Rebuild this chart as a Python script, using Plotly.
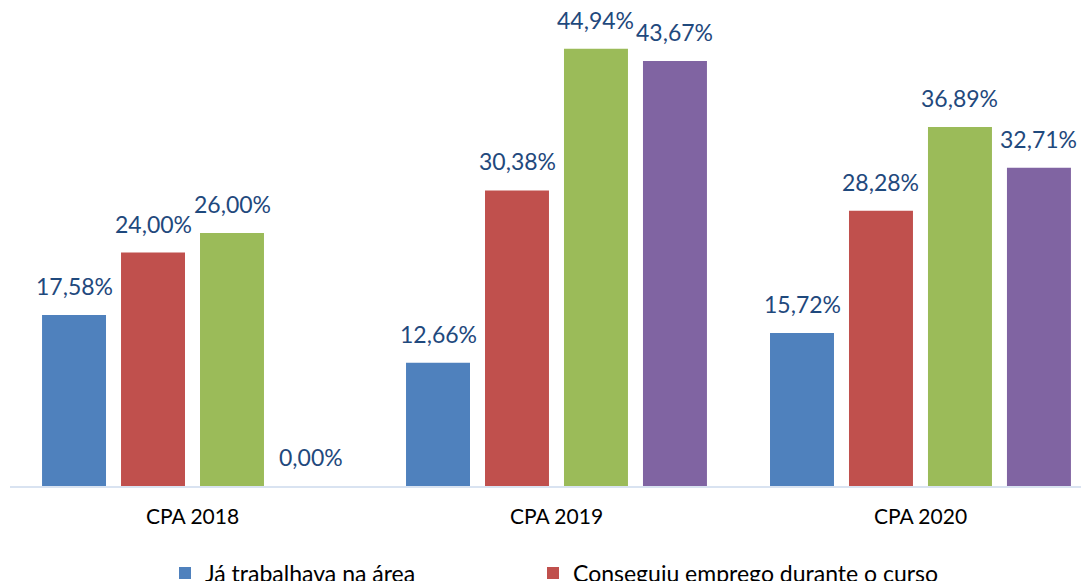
import plotly.graph_objects as go

categories = ["CPA 2018", "CPA 2019", "CPA 2020"]
series_names = [
    "Já trabalhava na área",
    "Conseguiu emprego durante o curso",
    "Conseguiu emprego após o curso",
    "Não conseguiu emprego",
]
ja_trabalhava = [17.58, 12.66, 15.72]
durante_curso = [24.00, 30.38, 28.28]
apos_curso = [26.00, 44.94, 36.89]
nao_conseguiu = [0.00, 43.67, 32.71]
series_values = [ja_trabalhava, durante_curso, apos_curso, nao_conseguiu]
colors = ["#4F81BD", "#C0504D", "#9BBB59", "#8064A2"]
legend_ids = ["legend", "legend2", "legend", "legend2"]

FONT = "Lato, 'Open Sans', sans-serif"
BARGAP = 0.132
NSER = len(series_values)

fig = go.Figure()
for name, vals, col, lg in zip(series_names, series_values, colors, legend_ids):
    fig.add_trace(go.Bar(
        x=categories, y=vals, name=name, legend=lg,
        marker=dict(color=col, line=dict(width=0)),
        hoverinfo="skip",
    ))

def fmt(v):
    return f"{v:.2f}".replace(".", ",") + "%"

slot = (1 - BARGAP) / NSER
annotations = []
for j, vals in enumerate(series_values):
    for i, v in enumerate(vals):
        annotations.append(dict(
            x=i + (j - (NSER - 1) / 2) * slot, y=v, xref="x", yref="y",
            text=fmt(v), showarrow=False, yanchor="bottom", yshift=13,
            font=dict(family=FONT, size=23, color="#1F497D"),
        ))

legend_common = dict(
    orientation="v", xanchor="left", y=-0.137, yanchor="top",
    font=dict(family=FONT, size=23, color="#000000"),
    itemwidth=30, bgcolor="rgba(0,0,0,0)",
)

fig.update_layout(
    width=1089, height=581,
    margin=dict(l=2, r=8, t=0, b=103, autoexpand=False),
    paper_bgcolor="white", plot_bgcolor="white",
    barmode="group", bargap=BARGAP, bargroupgap=0.19,
    showlegend=True,
    legend=dict(x=(157 - 2) / 1079, **legend_common),
    legend2=dict(x=(525 - 2) / 1079, **legend_common),
    annotations=annotations,
    font=dict(family=FONT),
)
fig.update_xaxes(
    type="category", range=[-0.5014, 2.463],
    showline=True, linecolor="#D9E3F1", linewidth=2,
    ticks="", ticklabelstandoff=11,
    tickfont=dict(family=FONT, size=21, color="#000000"),
    showgrid=False, zeroline=False,
)
fig.update_yaxes(
    range=[0, 49.13], visible=False, showgrid=False, zeroline=False,
)

fig.write_html("out.html")
